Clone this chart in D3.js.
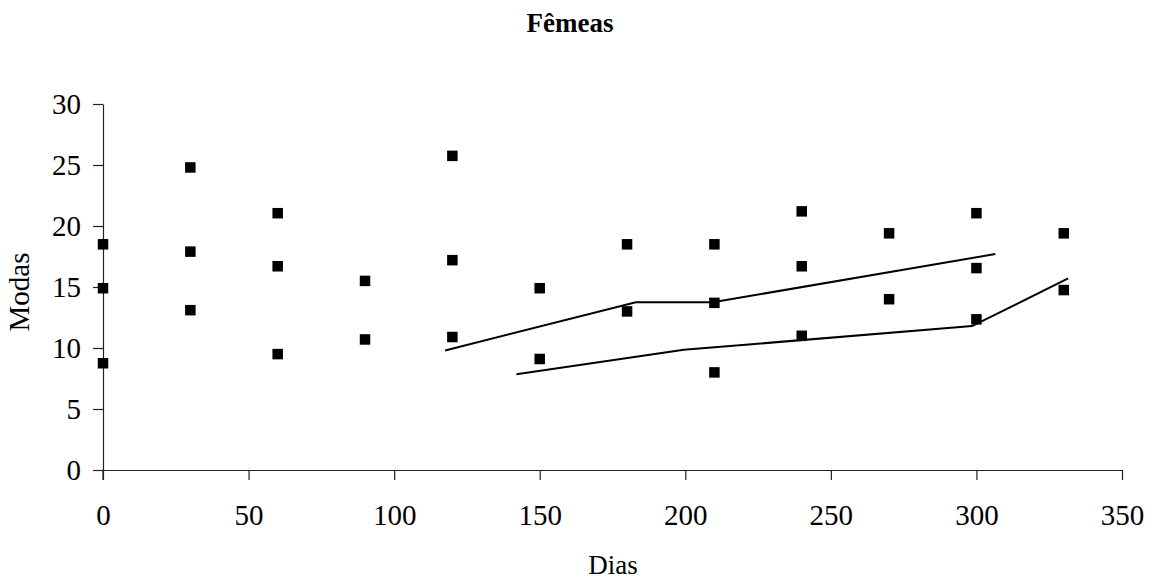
<!DOCTYPE html>
<html>
<head>
<meta charset="utf-8">
<script src="https://cdn.jsdelivr.net/npm/d3@7"></script>
<style>
  body { margin: 0; background: #fff; }
  text { font-family: "Liberation Serif", "Times New Roman", serif; fill: #000; }
</style>
</head>
<body>
<div id="chart"></div>
<script>
// Data
const days = [0, 0, 0, 30, 30, 30, 60, 60, 60, 90, 90, 120, 120, 120,
              150, 150, 180, 180, 210, 210, 210, 240, 240, 240, 270, 270,
              300, 300, 300, 330, 330];
const modas = [18.5, 14.9, 8.75, 24.8, 17.9, 13.1, 21.05, 16.7, 9.5, 15.5, 10.7, 25.75, 17.2, 10.9,
               14.9, 9.1, 18.5, 13.0, 18.5, 13.7, 8.0, 21.2, 16.7, 11.0, 19.4, 14.0,
               21.05, 16.55, 12.35, 19.4, 14.75];

// two trend lines (day, moda)
const upperLine = [[117.5, 9.8], [183, 13.75], [209.5, 13.75], [306.5, 17.7]];
const lowerLine = [[142, 7.85], [199.5, 9.85], [298.5, 11.8], [331.5, 15.7]];

const xTicks = [0, 50, 100, 150, 200, 250, 300, 350];
const yTicks = [0, 5, 10, 15, 20, 25, 30];

let width = 1156, height = 582;
let margin = { top: 104, bottom: 112, left: 103, right: 34 };

let svg = d3.select("#chart")
  .append("svg")
  .attr("width", width)
  .attr("height", height);

let x = d3.scaleLinear()
  .domain([0, 350])
  .range([margin.left, width - margin.right]);

let y = d3.scaleLinear()
  .domain([0, 30])
  .range([height - margin.bottom, margin.top]);

// axes
let xAxis = svg.append("g")
  .attr("transform", `translate(0,${height - margin.bottom})`)
  .call(d3.axisBottom(x).tickValues(xTicks).tickSize(10).tickPadding(24).tickSizeOuter(0));

let yAxis = svg.append("g")
  .attr("transform", `translate(${margin.left},0)`)
  .call(d3.axisLeft(y).tickValues(yTicks).tickSize(10).tickPadding(12).tickSizeOuter(0));

[xAxis, yAxis].forEach(g => {
  g.select(".domain").attr("stroke", "#222").attr("stroke-width", 1.2);
  g.selectAll(".tick line").attr("stroke", "#222").attr("stroke-width", 1.2);
  g.selectAll(".tick text")
    .style("font-family", '"Liberation Serif", serif')
    .style("font-size", "29px")
    .attr("fill", "#000");
});

// y axis line runs a bit below the x axis, like the original
yAxis.append("line")
  .attr("x1", 0).attr("x2", 0)
  .attr("y1", y(0)).attr("y2", y(0) + 10)
  .attr("stroke", "#222").attr("stroke-width", 1.2);

// title
svg.append("text")
  .attr("x", 570)
  .attr("y", 32)
  .attr("text-anchor", "middle")
  .style("font-size", "27px")
  .style("font-weight", "bold")
  .text("Fêmeas");

// axis labels
svg.append("text")
  .attr("x", 613)
  .attr("y", 574)
  .attr("text-anchor", "middle")
  .style("font-size", "27px")
  .text("Dias");

svg.append("text")
  .attr("transform", "translate(29,292) rotate(-90)")
  .attr("text-anchor", "middle")
  .style("font-size", "29px")
  .text("Modas");

// trend lines
let line = d3.line()
  .x(d => x(d[0]))
  .y(d => y(d[1]));

[upperLine, lowerLine].forEach(pts => {
  svg.append("path")
    .datum(pts)
    .attr("d", line)
    .attr("fill", "none")
    .attr("stroke", "#000")
    .attr("stroke-width", 2);
});

// markers
const size = 10.5;
svg.append("g")
  .selectAll("rect")
  .data(days.map((d, i) => [d, modas[i]]))
  .enter()
  .append("rect")
  .attr("x", d => x(d[0]) - size / 2)
  .attr("y", d => y(d[1]) - size / 2)
  .attr("width", size)
  .attr("height", size)
  .attr("fill", "#000");
</script>
</body>
</html>
